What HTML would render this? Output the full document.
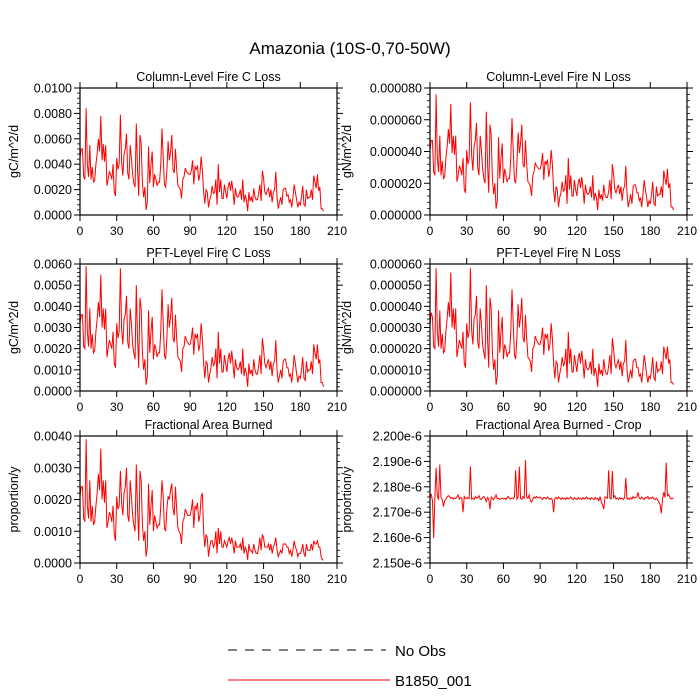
<!DOCTYPE html>
<html><head><meta charset="utf-8"><style>
html,body{margin:0;padding:0;background:#fff;}
svg{display:block;font-family:"Liberation Sans",sans-serif;}
</style></head><body>
<svg id="chart" width="700" height="700" viewBox="0 0 700 700" xmlns="http://www.w3.org/2000/svg">
<rect width="700" height="700" fill="#fff"/>
<text x="350" y="54" text-anchor="middle" font-size="17">Amazonia (10S-0,70-50W)</text>
<g>
<line x1="228" y1="650" x2="386" y2="650" stroke="#000" stroke-width="1" stroke-dasharray="9,8"/>
<text x="395" y="656" font-size="15">No Obs</text>
<line x1="228" y1="680" x2="390" y2="680" stroke="#f00" stroke-width="1"/>
<text x="395" y="686" font-size="15">B1850_001</text>
</g>
</svg>
<script>
const years = 200;
const xTicks = [0,30,60,90,120,150,180,210];
const colC = [4.5,5.2,5.2,3.0,2.8,8.4,4.0,3.0,5.5,2.8,3.8,2.6,2.7,4.0,4.8,6.0,5.0,7.8,4.3,5.6,
4.2,5.5,2.3,2.8,3.4,3.2,2.8,4.0,1.8,1.5,4.5,3.6,4.0,7.9,4.2,3.1,4.8,5.2,6.4,3.3,
2.8,5.5,4.5,3.2,2.5,2.2,7.2,3.6,1.5,6.3,5.6,2.5,1.4,2.2,0.4,1.0,5.4,2.5,4.0,5.0,
2.2,3.2,2.8,2.3,2.6,2.6,4.0,6.8,4.5,2.4,2.2,3.5,5.8,4.3,5.0,6.3,3.6,3.3,5.2,3.6,
2.3,2.2,2.0,1.3,2.8,3.0,3.7,3.4,3.3,3.2,3.2,3.5,4.3,2.4,3.8,3.6,3.9,2.7,3.2,4.6,
3.5,1.8,0.9,2.0,1.8,0.6,1.2,1.5,2.3,1.7,1.8,2.8,0.8,4.0,1.8,2.8,1.3,1.3,2.4,1.8,
1.3,2.2,2.6,1.9,2.7,1.9,0.8,2.1,1.5,1.4,1.6,2.0,1.2,2.8,1.0,1.6,1.2,0.3,1.8,1.1,
1.4,1.0,2.1,1.4,1.2,1.2,1.7,2.4,1.1,3.5,2.9,1.8,1.6,1.9,2.1,1.4,2.0,1.0,1.8,2.0,
3.4,1.4,0.5,1.0,1.4,0.8,2.0,2.1,2.1,1.5,1.6,1.0,1.2,0.6,1.4,2.4,1.8,1.2,0.6,1.0,
0.8,1.4,2.3,0.8,0.7,2.0,1.3,1.4,1.4,2.0,1.2,3.1,2.6,2.1,3.2,1.9,2.2,0.5,0.5,0.3];
const colN = [4.1,4.7,4.7,2.7,2.5,7.6,3.6,2.7,5.0,2.5,3.4,2.3,2.4,3.6,4.3,5.4,4.5,7.0,3.9,5.0,
3.8,5.0,2.1,2.5,3.1,2.9,2.5,3.6,1.6,1.4,4.1,3.2,3.6,7.1,3.8,2.8,4.3,4.7,5.8,3.0,
2.5,5.0,4.1,2.9,2.3,2.0,6.5,3.2,1.4,5.7,5.0,2.3,1.3,2.0,0.4,0.9,4.9,2.3,3.6,4.5,
2.0,2.9,2.5,2.1,2.3,2.3,3.6,6.1,4.1,2.2,2.0,3.2,5.2,3.9,4.5,5.7,3.2,3.0,4.7,3.2,
2.1,2.0,1.8,1.2,2.5,2.7,3.3,3.1,3.0,2.9,2.9,3.2,3.9,2.2,3.4,3.2,3.5,2.4,2.9,4.1,
3.2,1.6,0.8,1.8,1.6,0.5,1.1,1.4,2.1,1.5,1.6,2.5,0.7,3.6,1.6,2.5,1.2,1.2,2.2,1.6,
1.2,2.0,2.3,1.7,2.4,1.7,0.7,1.9,1.4,1.3,1.4,1.8,1.1,2.5,0.9,1.4,1.1,0.3,1.6,1.0,
1.3,0.9,1.9,1.3,1.1,1.1,1.5,2.2,1.0,3.2,2.6,1.6,1.4,1.7,1.9,1.3,1.8,0.9,1.6,1.8,
3.1,1.3,0.5,0.9,1.3,0.7,1.8,1.9,1.9,1.4,1.4,0.9,1.1,0.5,1.3,2.2,1.6,1.1,0.5,0.9,
0.7,1.3,2.1,0.7,0.6,1.8,1.2,1.3,1.3,1.8,1.1,2.8,2.3,1.9,2.9,1.7,2.0,0.5,0.5,0.3];
const pftC = [3.2,3.6,3.6,2.1,2.0,5.9,2.8,2.1,3.9,2.0,2.7,1.8,1.9,2.8,3.4,4.2,3.5,5.5,3.0,3.9,
2.9,3.9,1.6,2.0,2.4,2.2,2.0,2.8,1.3,1.1,3.2,2.5,2.8,5.8,2.9,2.2,3.4,3.6,4.5,2.3,
2.0,3.9,3.2,2.2,1.8,1.5,5.0,2.5,1.1,4.4,3.9,1.8,1.0,1.5,0.3,0.7,3.8,1.8,2.8,3.5,
1.5,2.2,2.0,1.6,1.8,1.8,2.8,4.8,3.2,1.7,1.5,2.5,4.1,3.0,3.5,4.4,2.5,2.3,3.6,2.5,
1.6,1.5,1.4,0.9,2.0,2.1,2.6,2.4,2.3,2.2,2.2,2.5,3.0,1.7,2.7,2.5,2.7,1.9,2.2,3.2,
2.5,1.3,0.6,1.4,1.3,0.4,0.8,1.1,1.6,1.2,1.3,2.0,0.6,2.8,1.3,2.0,0.9,0.9,1.7,1.3,
0.9,1.5,1.8,1.3,1.9,1.3,0.6,1.5,1.1,1.0,1.1,1.4,0.8,2.0,0.7,1.1,0.8,0.2,1.3,0.8,
1.0,0.7,1.5,1.0,0.8,0.8,1.2,1.7,0.8,2.5,2.0,1.3,1.1,1.3,1.5,1.0,1.4,0.7,1.3,1.4,
2.4,1.0,0.4,0.7,1.0,0.6,1.4,1.5,1.5,1.1,1.1,0.7,0.8,0.4,1.0,1.7,1.3,0.8,0.4,0.7,
0.6,1.0,1.6,0.6,0.5,1.4,0.9,1.0,1.0,1.4,0.8,2.2,1.8,1.5,2.2,1.3,1.5,0.4,0.4,0.2];
const pftN = [3.1,3.7,3.5,2.1,2.0,5.8,2.8,2.1,3.8,2.0,2.7,1.8,1.9,2.8,3.4,4.2,3.5,5.6,3.0,3.9,
2.9,3.9,1.6,2.0,2.4,2.2,2.0,2.8,1.3,1.1,3.2,2.5,2.8,5.8,2.9,2.2,3.4,3.6,4.5,2.3,
2.0,3.9,3.2,2.2,1.8,1.5,5.0,2.5,1.1,4.4,3.9,1.8,1.0,1.5,0.3,0.7,3.8,1.8,2.8,3.5,
1.5,2.2,2.0,1.6,1.8,1.8,2.8,4.8,3.2,1.7,1.5,2.5,4.1,3.0,3.5,4.4,2.5,2.3,3.6,2.5,
1.6,1.5,1.4,0.9,2.0,2.1,2.6,2.4,2.3,2.2,2.2,2.5,3.0,1.7,2.7,2.5,2.7,1.9,2.2,3.2,
2.5,1.3,0.6,1.4,1.3,0.4,0.8,1.1,1.6,1.2,1.3,2.0,0.6,2.8,1.3,2.0,0.9,0.9,1.7,1.3,
0.9,1.5,1.8,1.3,1.9,1.3,0.6,1.5,1.1,1.0,1.1,1.4,0.8,2.0,0.7,1.1,0.8,0.2,1.3,0.8,
1.0,0.7,1.5,1.0,0.8,0.8,1.2,1.7,0.8,2.5,2.0,1.3,1.1,1.3,1.5,1.0,1.4,0.7,1.3,1.4,
2.4,1.0,0.4,0.7,1.0,0.6,1.4,1.5,1.5,1.1,1.1,0.7,0.8,0.4,1.0,1.7,1.3,0.8,0.4,0.7,
0.6,1.0,1.6,0.6,0.5,1.4,0.9,1.0,1.0,1.4,0.8,2.1,1.8,1.5,2.1,1.3,1.5,0.4,0.4,0.3];
const area = [2.1,2.4,2.4,1.4,1.3,3.9,1.8,1.4,2.6,1.3,1.8,1.2,1.3,1.8,2.2,2.8,2.3,3.6,2.0,2.6,
1.9,2.6,1.1,1.3,1.6,1.5,1.3,1.8,0.9,0.7,2.1,1.7,1.8,2.9,1.9,1.5,2.2,2.4,3.0,1.5,
1.3,2.6,2.1,1.5,1.2,1.0,3.1,1.7,0.7,2.9,2.6,1.2,0.7,1.0,0.2,0.5,2.5,1.2,1.8,2.3,
1.0,1.5,1.3,1.1,1.2,1.2,1.8,2.6,2.1,1.1,1.0,1.7,2.1,2.0,2.3,2.5,1.7,1.5,2.4,1.7,
1.1,1.0,0.9,0.6,1.3,1.4,1.7,1.6,1.5,1.5,1.5,1.7,2.0,1.1,1.8,1.7,1.9,1.3,1.5,2.1,
2.2,1.0,0.5,0.9,0.8,0.2,0.5,0.7,0.7,0.5,0.6,1.0,0.3,1.1,0.6,1.0,0.5,0.5,0.7,0.6,
0.5,0.7,0.8,0.6,0.8,0.6,0.3,0.7,0.5,0.5,0.5,0.6,0.4,0.8,0.3,0.5,0.4,0.1,0.6,0.4,
0.4,0.3,0.6,0.4,0.3,0.3,0.5,0.8,0.4,0.9,0.8,0.5,0.5,0.5,0.6,0.4,0.6,0.3,0.5,0.6,
0.8,0.4,0.2,0.3,0.4,0.3,0.6,0.6,0.6,0.5,0.5,0.3,0.4,0.2,0.4,0.7,0.5,0.4,0.2,0.3,
0.3,0.4,0.6,0.3,0.2,0.6,0.4,0.4,0.4,0.6,0.4,0.7,0.6,0.6,0.7,0.5,0.5,0.2,0.1,0.1];
const crop = [2.1755,2.1772,2.1745,2.1598,2.1760,2.1875,2.1760,2.1752,2.1888,2.1758,2.1750,2.1722,2.1745,2.1752,2.1760,2.1765,2.1762,2.1755,2.1758,2.1752,
2.1756,2.1754,2.1760,2.1768,2.1752,2.1757,2.1755,2.1700,2.1762,2.1755,2.1753,2.1758,2.1754,2.1880,2.1752,2.1755,2.1750,2.1762,2.1755,2.1758,
2.1765,2.1752,2.1750,2.1758,2.1762,2.1755,2.1742,2.1758,2.1752,2.1712,2.1760,2.1755,2.1750,2.1758,2.1768,2.1752,2.1755,2.1750,2.1752,2.1756,
2.1752,2.1755,2.1750,2.1757,2.1762,2.1755,2.1752,2.1756,2.1753,2.1758,2.1865,2.1752,2.1760,2.1880,2.1755,2.1750,2.1762,2.1755,2.1905,2.1758,
2.1755,2.1768,2.1745,2.1740,2.1752,2.1760,2.1755,2.1762,2.1758,2.1756,2.1760,2.1755,2.1750,2.1758,2.1757,2.1752,2.1760,2.1755,2.1750,2.1755,
2.1748,2.1700,2.1755,2.1758,2.1752,2.1760,2.1755,2.1750,2.1757,2.1752,2.1755,2.1750,2.1758,2.1752,2.1755,2.1760,2.1753,2.1750,2.1757,2.1752,
2.1750,2.1758,2.1752,2.1755,2.1750,2.1757,2.1752,2.1755,2.1760,2.1752,2.1755,2.1750,2.1757,2.1753,2.1750,2.1758,2.1752,2.1755,2.1745,2.1762,
2.1740,2.1728,2.1712,2.1760,2.1758,2.1755,2.1865,2.1755,2.1752,2.1862,2.1758,2.1765,2.1752,2.1755,2.1750,2.1757,2.1752,2.1755,2.1750,2.1757,
2.1835,2.1752,2.1755,2.1750,2.1757,2.1752,2.1762,2.1755,2.1758,2.1760,2.1778,2.1755,2.1752,2.1760,2.1755,2.1750,2.1758,2.1755,2.1762,2.1752,
2.1757,2.1755,2.1760,2.1752,2.1750,2.1755,2.1748,2.1740,2.1730,2.1695,2.1752,2.1778,2.1758,2.1895,2.1765,2.1770,2.1758,2.1752,2.1755,2.1752];
const colCTicks = ["0.0000","0.0020","0.0040","0.0060","0.0080","0.0100"];
const colNTicks = ["0.000000","0.000020","0.000040","0.000060","0.000080"];
const pftCTicks = ["0.0000","0.0010","0.0020","0.0030","0.0040","0.0050","0.0060"];
const pftNTicks = ["0.000000","0.000010","0.000020","0.000030","0.000040","0.000050","0.000060"];
const areaTicks = ["0.0000","0.0010","0.0020","0.0030","0.0040"];
const cropTicks = ["2.150e-6","2.160e-6","2.170e-6","2.180e-6","2.190e-6","2.200e-6"];

const NS = "http://www.w3.org/2000/svg";
const svg = document.getElementById("chart");
function mk(tag, attrs, parent){
  const e = document.createElementNS(NS, tag);
  for (const k in attrs) e.setAttribute(k, attrs[k]);
  parent.appendChild(e);
  return e;
}
const panels = [
  {key:"col-c", x:80, y:88, title:"Column-Level Fire C Loss", ylab:"gC/m^2/d", data:colC, ymin:0, ymax:10, labels:colCTicks},
  {key:"col-n", x:430, y:88, title:"Column-Level Fire N Loss", ylab:"gN/m^2/d", data:colN, ymin:0, ymax:8, labels:colNTicks},
  {key:"pft-c", x:80, y:264, title:"PFT-Level Fire C Loss", ylab:"gC/m^2/d", data:pftC, ymin:0, ymax:6, labels:pftCTicks},
  {key:"pft-n", x:430, y:264, title:"PFT-Level Fire N Loss", ylab:"gN/m^2/d", data:pftN, ymin:0, ymax:6, labels:pftNTicks},
  {key:"area", x:80, y:436, title:"Fractional Area Burned", ylab:"proportion/y", data:area, ymin:0, ymax:4, labels:areaTicks},
  {key:"crop", x:430, y:436, title:"Fractional Area Burned - Crop", ylab:"proportion/y", data:crop, ymin:2.150, ymax:2.200, labels:cropTicks}
];
const W = 257, H = 127;
panels.forEach(p => {
  const g = mk("g", {}, svg);
  
  
  const xs = v => p.x + v / 210 * W;
  const ys = v => p.y + H - (v - p.ymin) / (p.ymax - p.ymin) * H;
  // series
  let d = "";
  p.data.forEach((v,i) => { d += (i ? "L" : "M") + xs(i).toFixed(2) + "," + ys(v).toFixed(2); });
  const line = mk("path", {d:d, fill:"none", stroke:"#f00", "stroke-width":"1"}, g);
  
  
  // frame
  const fr = mk("rect", {x:p.x, y:p.y, width:W, height:H, fill:"none", stroke:"#000", "stroke-width":"1.2"}, g);
  
  
  // x ticks
  xTicks.forEach(t => {
    const x = xs(t);
    mk("line", {x1:x, x2:x, y1:p.y+H, y2:p.y+H+6, stroke:"#000", "stroke-width":"1"}, g);
    mk("line", {x1:x, x2:x, y1:p.y, y2:p.y-6, stroke:"#000", "stroke-width":"1"}, g);
    const tl = mk("text", {x:x, y:p.y+H+20, "text-anchor":"middle", "font-size":"12"}, g);
    
    
    tl.textContent = t;
  });
  // y ticks
  const n = p.labels.length - 1;
  for (let i = 0; i <= n; i++) {
    const v = p.ymin + (p.ymax - p.ymin) * i / n;
    const y = ys(v);
    mk("line", {x1:p.x-6, x2:p.x, y1:y, y2:y, stroke:"#000", "stroke-width":"1"}, g);
    mk("line", {x1:p.x+W, x2:p.x+W+6, y1:y, y2:y, stroke:"#000", "stroke-width":"1"}, g);
    if (i < n) for (let m = 1; m < 5; m++) {
      const ym = y - m * (H / n) / 5;
      mk("line", {x1:p.x-3, x2:p.x, y1:ym, y2:ym, stroke:"#000", "stroke-width":"0.8"}, g);
      mk("line", {x1:p.x+W, x2:p.x+W+3, y1:ym, y2:ym, stroke:"#000", "stroke-width":"0.8"}, g);
    }
    const yl = mk("text", {x:p.x-8, y:y+4.5, "text-anchor":"end", "font-size":"12.5"}, g);
    
    
    yl.textContent = p.labels[i];
  }
  const ti = mk("text", {x:p.x+W/2, y:p.y-7, "text-anchor":"middle", "font-size":"12.5"}, g);
  
  
  ti.textContent = p.title;
  const yx = p.x < 200 ? 18 : 351;
  const yt = mk("text", {x:yx, y:p.y+H/2, "text-anchor":"middle", "font-size":"12.5", transform:"rotate(-90 "+yx+" "+(p.y+H/2)+")"}, g);
  
  
  yt.textContent = p.ylab;
});
</script>
</body></html>
